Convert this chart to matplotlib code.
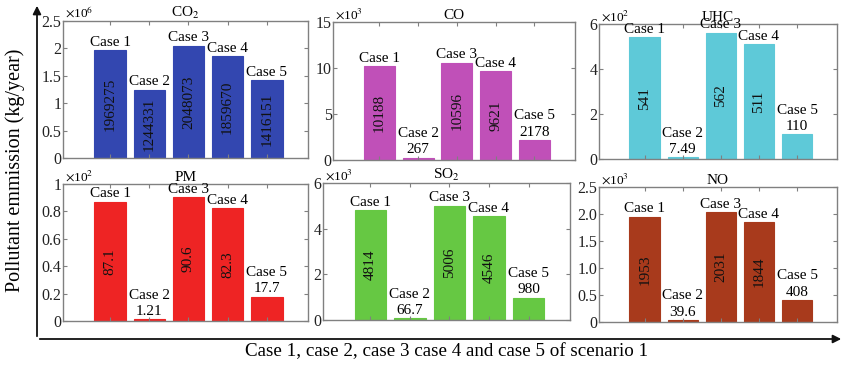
import matplotlib
matplotlib.use("Agg")
import matplotlib.pyplot as plt
from matplotlib.patches import FancyArrowPatch

plt.rcParams["font.family"] = ["Liberation Serif", "DejaVu Serif"]
plt.rcParams["mathtext.fontset"] = "stix"

# --- datos ---
casos = ["Case 1", "Case 2", "Case 3", "Case 4", "Case 5"]

co2 = [1969275, 1244331, 2048073, 1859670, 1416151]
co = [10188, 267, 10596, 9621, 2178]
uhc = [541, 7.49, 562, 511, 110]
pm = [87.1, 1.21, 90.6, 82.3, 17.7]
so2 = [4814, 66.7, 5006, 4546, 980]
no = [1953, 39.6, 2031, 1844, 408]

co2_txt = ["1969275", "1244331", "2048073", "1859670", "1416151"]
co_txt = ["10188", "267", "10596", "9621", "2178"]
uhc_txt = ["541", "7.49", "562", "511", "110"]
pm_txt = ["87.1", "1.21", "90.6", "82.3", "17.7"]
so2_txt = ["4814", "66.7", "5006", "4546", "980"]
no_txt = ["1953", "39.6", "2031", "1844", "408"]

titulos = ["CO$_2$", "CO", "UHC", "PM", "SO$_2$", "NO"]
exponentes = [6, 3, 2, 2, 3, 3]
yticks = [
    ["0", "0.5", "1", "1.5", "2", "2.5"],
    ["0", "5", "10", "15"],
    ["0", "2", "4", "6"],
    ["0", "0.2", "0.4", "0.6", "0.8", "1"],
    ["0", "2", "4", "6"],
    ["0", "0.5", "1.0", "1.5", "2.0", "2.5"],
]
valores = [co2, co, uhc, pm, so2, no]
textos = [co2_txt, co_txt, uhc_txt, pm_txt, so2_txt, no_txt]
colores = ["#3347b0", "#c050b8", "#5ec9d8", "#ee2424", "#66c843", "#a83a1c"]

# posiciones de los paneles en pixeles: (x0, y0_top, x1, y1_bottom)
W, H = 845, 365
cajas = [
    (63, 21, 308, 158),
    (333, 22, 575, 160),
    (599, 24, 837, 159),
    (63, 184, 308, 321),
    (323, 183, 570, 320),
    (599, 187, 837, 322),
]

fig = plt.figure(figsize=(W / 100, H / 100), dpi=100)
fs = 11
gris = "#808080"

for caja, tit, ex, ytl, vals, txts, col in zip(cajas, titulos, exponentes,
                                              yticks, valores, textos, colores):
    x0, y0, x1, y1 = caja
    ax = fig.add_axes([x0 / W, 1 - y1 / H, (x1 - x0) / W, (y1 - y0) / H])
    escala = 10 ** ex
    v = [a / escala for a in vals]
    ymax = float(ytl[-1])
    pos = list(range(len(v)))
    ax.bar(pos, v, width=0.8, color=col, edgecolor=col, linewidth=0.8)
    ax.set_xlim(-1.2, 5.05)
    ax.set_ylim(0, ymax)
    ax.set_xticks(pos)
    ax.set_xticklabels([])
    ax.set_yticks([float(t) for t in ytl])
    ax.set_yticklabels(ytl, fontsize=11.5)
    ax.tick_params(direction="in", top=True, right=True, length=3,
                   color=gris, pad=1, labelcolor="#222222")
    for s in ax.spines.values():
        s.set_color(gris)
        s.set_linewidth(1.0)
    ax.set_title(tit, fontsize=fs, pad=1)
    ax.text(0.01, 1.0, r"$\times$10$^{%d}$" % ex, transform=ax.transAxes,
            ha="left", va="bottom", fontsize=9.5)
    off = 0.01 * ymax
    for p, h, t, c in zip(pos, v, txts, casos):
        if h / ymax > 0.3:
            ax.text(p, h / 2, t, rotation=90, ha="center", va="center",
                    fontsize=fs, color="#111111")
            ax.text(p, h + off, c, ha="center", va="bottom", fontsize=fs)
        else:
            ax.text(p, h + off, t, ha="center", va="bottom", fontsize=fs)
            ax.text(p, h + off + 0.12 * ymax, c, ha="center", va="bottom",
                    fontsize=fs)

# ejes con flecha de la figura completa
xa, ya = 37 / W, 1 - 339 / H
fig.add_artist(FancyArrowPatch((xa, ya), (xa, 1 - 3 / H), transform=fig.transFigure,
                               arrowstyle="-|>", mutation_scale=12, lw=1.3,
                               color="#111111"))
fig.add_artist(FancyArrowPatch((xa, ya), (844 / W, ya), transform=fig.transFigure,
                               arrowstyle="-|>", mutation_scale=12, lw=1.3,
                               color="#111111"))

fig.text(15 / W, 1 - 170 / H, "Pollutant emmission (kg/year)", rotation=90,
         ha="center", va="center", fontsize=14.5)
fig.text(447 / W, 1 - 352 / H,
         "Case 1, case 2, case 3 case 4 and case 5 of scenario 1",
         ha="center", va="center", fontsize=13.7)

fig.savefig("out.png", dpi=100)
